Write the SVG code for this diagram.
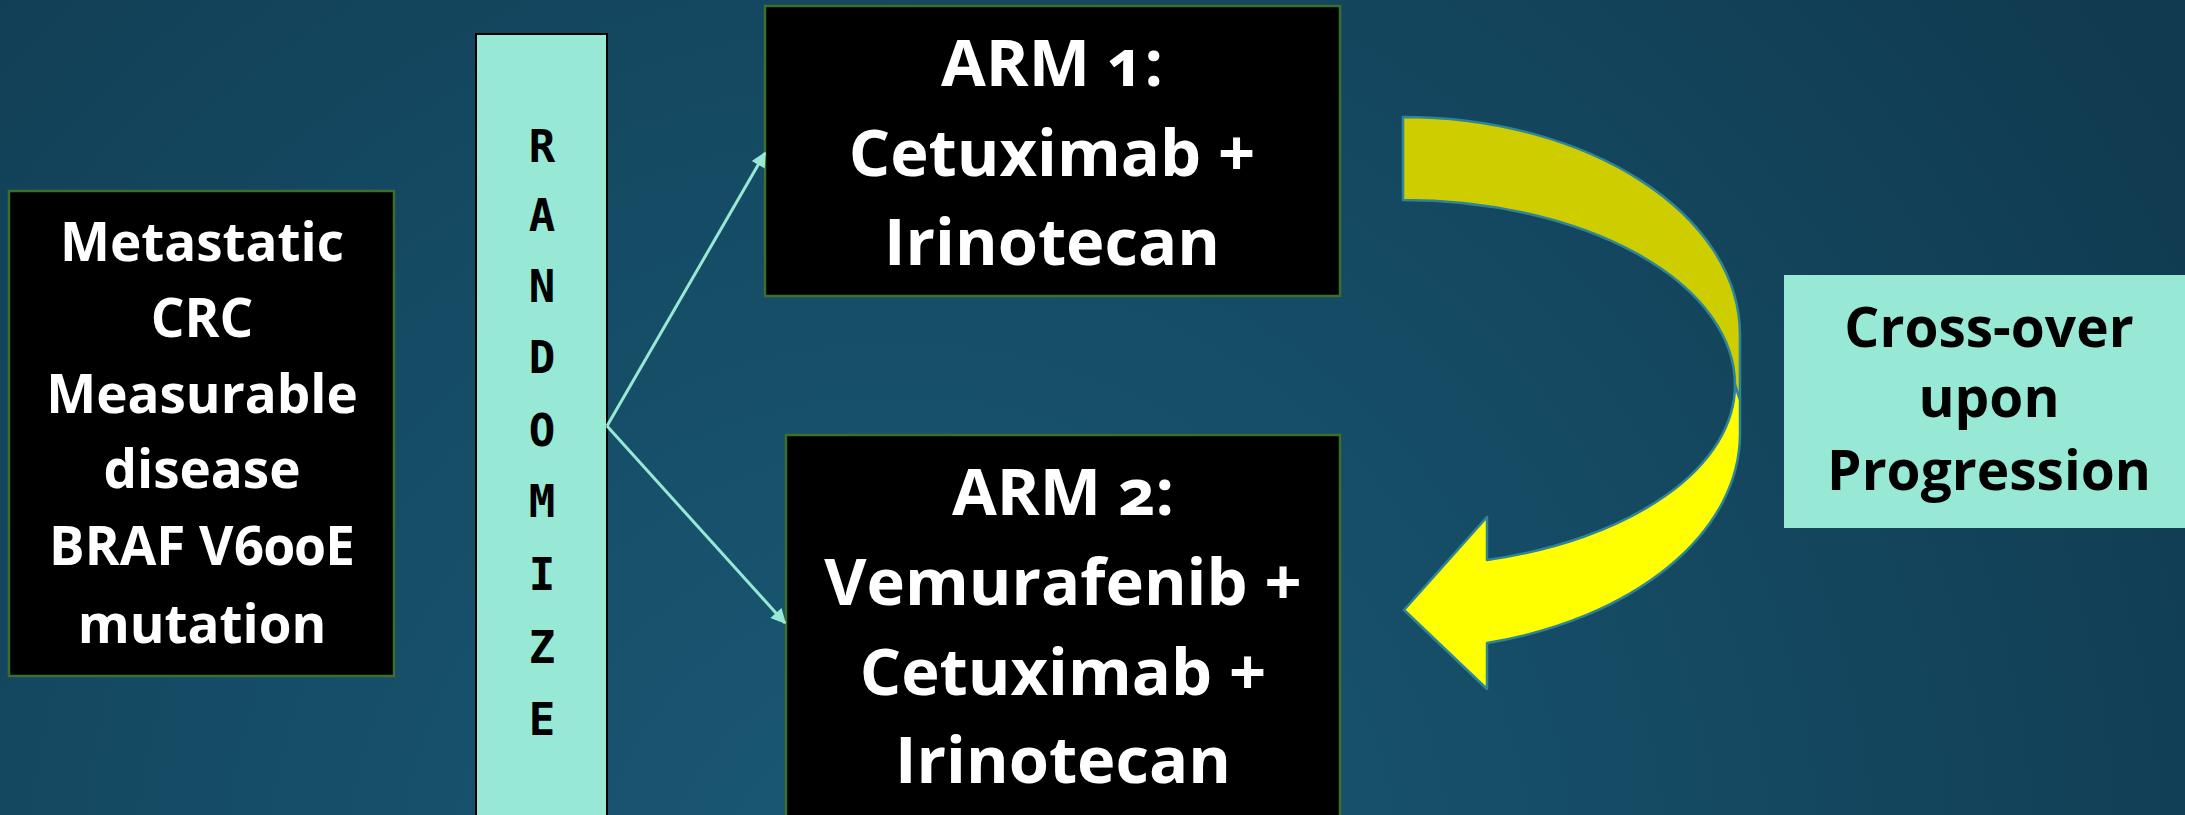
<svg xmlns="http://www.w3.org/2000/svg" width="2185" height="815" viewBox="0 0 2185 815">
<defs>
<radialGradient id="bg" cx="900" cy="900" r="1500" gradientUnits="userSpaceOnUse">
<stop offset="0" stop-color="#1A5976"/>
<stop offset="0.6" stop-color="#144860"/>
<stop offset="1" stop-color="#103A50"/>
</radialGradient>
<marker id="ah" viewBox="0 0 10 10" refX="9" refY="5" markerWidth="6.5" markerHeight="5" orient="auto" markerUnits="strokeWidth">
<path d="M0,0 L10,5 L0,10 Z" fill="#97E9D6"/>
</marker>
<style>
.blk{fill:#000;stroke:#3E6E2E;stroke-width:2.5}
.aq{fill:#97E9D6}
.wt{font-family:"Open Sans","Noto Sans",sans-serif;font-weight:700;fill:#fff;text-anchor:middle;font-variant-numeric:oldstyle-nums}
.bt{font-family:"Open Sans","Noto Sans",sans-serif;font-weight:700;fill:#000;text-anchor:middle}
.mono{font-family:"DejaVu Sans Mono","Liberation Mono",monospace;font-weight:700;font-size:44px;fill:#000;text-anchor:middle}
.con{stroke:#97E9D6;stroke-width:3;fill:none;marker-end:url(#ah)}
.cv{stroke:#2F8596;stroke-width:2.5;stroke-linejoin:round}
</style>
</defs>
<rect width="2185" height="815" fill="url(#bg)"/>

<g id="node-patients">
<rect class="blk" x="9" y="191" width="385" height="485"/>
<text class="wt" font-size="53" x="202"><tspan x="202" y="261">Metastatic</tspan><tspan x="202" y="337">CRC</tspan><tspan x="202" y="413">Measurable</tspan><tspan x="202" y="488">disease</tspan><tspan x="202" y="565">BRAF V600E</tspan><tspan x="202" y="643">mutation</tspan></text>
</g>

<g id="node-randomize">
<rect class="aq" x="476" y="34" width="131" height="800" stroke="#000" stroke-width="2"/>
<text class="mono"><tspan x="542" y="162">R</tspan><tspan x="542" y="231">A</tspan><tspan x="542" y="302">N</tspan><tspan x="542" y="373">D</tspan><tspan x="542" y="446">O</tspan><tspan x="542" y="517">M</tspan><tspan x="542" y="590">I</tspan><tspan x="542" y="663">Z</tspan><tspan x="542" y="735">E</tspan></text>
</g>

<g id="node-arm1">
<rect class="blk" x="765" y="6" width="575" height="290"/>
<text class="wt" font-size="65"><tspan x="1052" y="86">ARM 1:</tspan><tspan x="1052" y="176">Cetuximab +</tspan><tspan x="1052" y="265">Irinotecan</tspan></text>
</g>

<g id="node-arm2">
<rect class="blk" x="786" y="435" width="554" height="400"/>
<text class="wt" font-size="65"><tspan x="1063" y="515">ARM 2:</tspan><tspan x="1063" y="605">Vemurafenib +</tspan><tspan x="1063" y="695">Cetuximab +</tspan><tspan x="1063" y="783">Irinotecan</tspan></text>
</g>

<g id="node-crossover">
<rect class="aq" x="1784" y="275" width="420" height="253"/>
<text class="bt" font-size="55"><tspan x="1989" y="347">Cross-over</tspan><tspan x="1989" y="417">upon</tspan><tspan x="1989" y="490">Progression</tspan></text>
</g>

<g id="connectors">
<line class="con" x1="607" y1="426" x2="765" y2="153"/>
<line class="con" x1="607" y1="426" x2="785" y2="623"/>
<g id="curved-arrow">
<path class="cv" fill="#CDCD00" d="M1403,117 C1589,117 1740,214.6 1740,335 L1740,400 L1735,385 A332 185 0 0 0 1403,200 Z"/>
<path class="cv" fill="#FFFF00" d="M1735,385 A332 181 0 0 1 1487,560 L1487,517 L1404,610 L1487,689 L1487,643 A337 216 0 0 0 1740,434 L1740,400 Z"/>
</g>
</g>
</svg>
